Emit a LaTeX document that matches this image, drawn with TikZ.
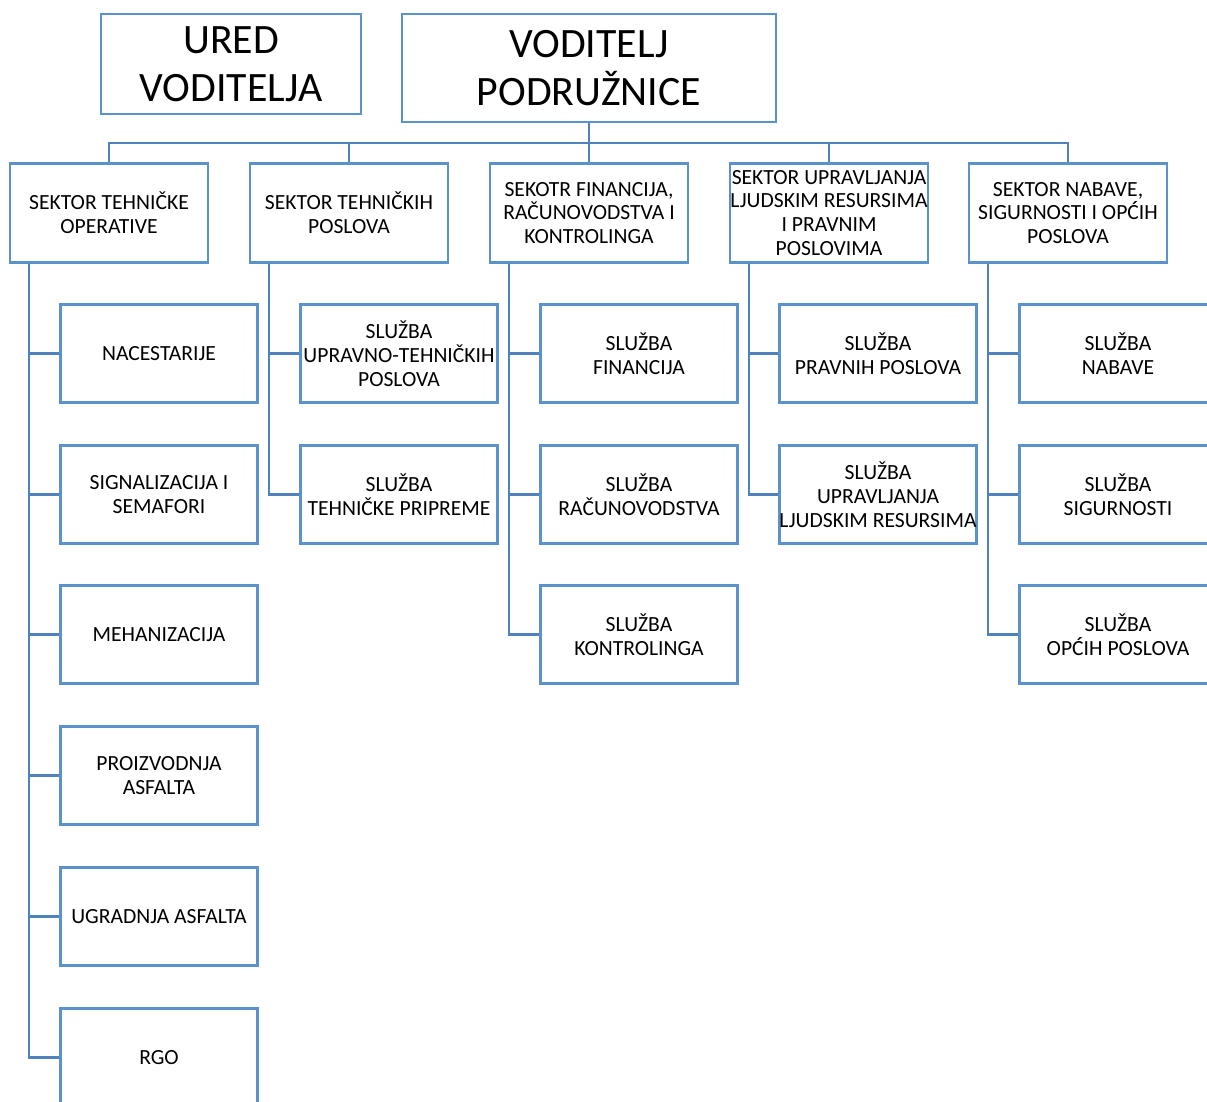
\documentclass[tikz,border=0pt]{standalone}
\usepackage{fontspec}
\setmainfont{Carlito}
\usepackage{xcolor}
\usepackage{tikz}
\definecolor{okvir}{RGB}{91,146,204}
\definecolor{linija}{RGB}{79,129,189}
\tikzset{jedinica/.style={draw=okvir,line width=1.4pt,align=center,inner sep=0pt,font=\fontsize{12.3}{13.6}\selectfont}}
\tikzset{sektor/.style={jedinica,minimum width=3.96cm,minimum height=1.98cm}}
\tikzset{sluzba/.style={jedinica,minimum width=3.94cm,minimum height=1.96cm}}
\tikzset{vrh/.style={jedinica,font=\fontsize{23.8}{27.2}\selectfont}}
\tikzset{veza/.style={draw=linija,line width=1.4pt}}

\begin{document}
\begin{tikzpicture}[x=0.02cm,y=-0.02cm]
	\useasboundingbox (0,0) rectangle (1207,1102);
	\clip (0,0) rectangle (1207,1102);
	% vrh
	\node[vrh,minimum width=5.2cm,minimum height=2cm] (ured) at (231,64) {URED\\VODITELJA};
	\node[vrh,minimum width=7.48cm,minimum height=2.16cm] (vod) at (589,68) {VODITELJ\\PODRUŽNICE};
	% sektori
	\node[sektor] (s1) at (109,213) {SEKTOR TEHNIČKE\\OPERATIVE};
	\node[sektor] (s2) at (349,213) {SEKTOR TEHNIČKIH\\POSLOVA};
	\node[sektor] (s3) at (589,213) {SEKOTR FINANCIJA,\\RAČUNOVODSTVA I\\KONTROLINGA};
	\node[sektor] (s4) at (829,213) {SEKTOR UPRAVLJANJA\\LJUDSKIM RESURSIMA\\I PRAVNIM\\POSLOVIMA};
	\node[sektor] (s5) at (1068,213) {SEKTOR NABAVE,\\SIGURNOSTI I OPĆIH\\POSLOVA};
	\coordinate (bus) at (0,143);
	\draw[veza] (vod.south) -- (vod.south |- bus);
	\draw[veza] (s1.north) |- (s5.north |- bus) -- (s5.north);
	\draw[veza] (s2.north) -- (s2.north |- bus);
	\draw[veza] (s3.north) -- (s3.north |- bus);
	\draw[veza] (s4.north) -- (s4.north |- bus);
	% sluzbe, tehnicka operativa
	\node[sluzba] (nac) at (159,353.5) {NACESTARIJE};
	\node[sluzba] (sig) at (159,494.5) {SIGNALIZACIJA I\\SEMAFORI};
	\node[sluzba] (meh) at (159,634.5) {MEHANIZACIJA};
	\node[sluzba] (pro) at (159,775.5) {PROIZVODNJA\\ASFALTA};
	\node[sluzba] (ugr) at (159,916.5) {UGRADNJA ASFALTA};
	\node[sluzba] (rgo) at (159,1057.5) {RGO};
	% tehnicki poslovi
	\node[sluzba] (upr) at (399,353.5) {SLUŽBA\\UPRAVNO-TEHNIČKIH\\POSLOVA};
	\node[sluzba] (teh) at (399,494.5) {SLUŽBA\\TEHNIČKE PRIPREME};
	% financije
	\node[sluzba] (fin) at (639,353.5) {SLUŽBA\\FINANCIJA};
	\node[sluzba] (rac) at (639,494.5) {SLUŽBA\\RAČUNOVODSTVA};
	\node[sluzba] (kon) at (639,634.5) {SLUŽBA\\KONTROLINGA};
	% ljudski resursi
	\node[sluzba] (pra) at (878,353.5) {SLUŽBA\\PRAVNIH POSLOVA};
	\node[sluzba] (ljr) at (878,494.5) {SLUŽBA\\UPRAVLJANJA\\LJUDSKIM RESURSIMA};
	% nabava
	\node[sluzba] (nab) at (1118,353.5) {SLUŽBA\\NABAVE};
	\node[sluzba] (sigu) at (1118,494.5) {SLUŽBA\\SIGURNOSTI};
	\node[sluzba] (opc) at (1118,634.5) {SLUŽBA\\OPĆIH POSLOVA};
	% veze
	\foreach \a/\b in {s1/nac,s1/sig,s1/meh,s1/pro,s1/ugr,s1/rgo,s2/upr,s2/teh,s3/fin,s3/rac,s3/kon,s4/pra,s4/ljr,s5/nab,s5/sigu,s5/opc}
		\draw[veza] ([xshift=0.4cm]\a.south west) |- (\b.west);
\end{tikzpicture}
\end{document}
